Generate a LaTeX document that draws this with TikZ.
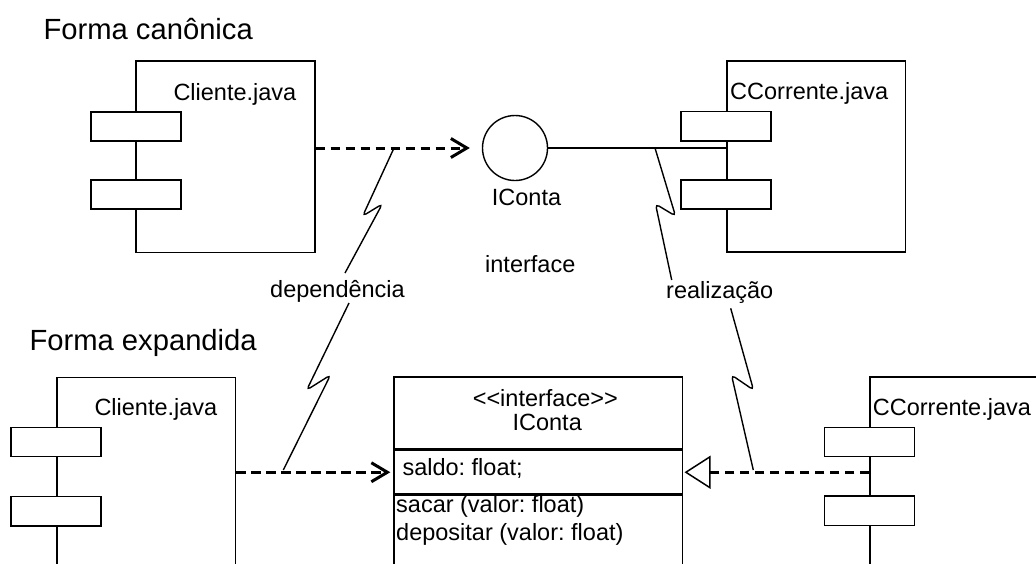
\documentclass[tikz,border=0pt]{standalone}
\usepackage{fontspec}
\setmainfont{Liberation Sans}
\usetikzlibrary{arrows.meta}
\frenchspacing

\tikzset{
  lbl/.style={inner sep=0pt, anchor=base west, font=\fontsize{23.5}{28}\selectfont},
  lblc/.style={lbl, anchor=base},
  head/.style={inner sep=0pt, anchor=base west, font=\fontsize{29.2}{34}\selectfont},
  comp/.style={draw, line width=1.6pt, fill=white, inner sep=0pt, anchor=north west},
  port/.style={draw, line width=1.6pt, fill=white, inner sep=0pt,
               minimum width=90pt, minimum height=29.3pt},
  clsbox/.style={draw, line width=1.5pt, fill=white, inner sep=0pt, anchor=north west,
                 minimum width=288.4pt},
  depline/.style={line width=3pt, dash pattern=on 9.5pt off 5.5pt,
                  -{Straight Barb[length=16pt,width=19pt]}},
  realline/.style={line width=3pt, dash pattern=on 9.5pt off 5.5pt,
                   -{Triangle[open,length=26pt,width=33pt,line width=1.5pt]}},
  bolt/.style={line width=1.4pt, rounded corners=4pt},
}

\begin{document}
\begin{tikzpicture}[x=1pt, y=-1pt]
  \useasboundingbox (0,0) rectangle (1036,563);
  \fill[white] (0,0) rectangle (1036,563);
  \clip (0,0) rectangle (1036,563);

  % ---------- canonical form ----------
  \node[head] (hcan) at (43.3,39.3) {Forma canônica};

  \node[comp, minimum width=179pt, minimum height=191.5pt] (cliA) at (135,60) {};
  \node[lbl] (cliAt) at (173.3,100) {Cliente.java};
  \node[port] (cliAp1) at (136,126.5) {};
  \node[port] (cliAp2) at (136,194.5) {};

  \node[comp, minimum width=178.5pt, minimum height=191pt] (ccA) at (726,60) {};
  \node[lbl] (ccAt) at (730,99.5) {CCorrente.java};
  \node[port] (ccAp1) at (725.8,126.2) {};
  \node[port] (ccAp2) at (725.8,194.6) {};

  \node[draw, circle, line width=1.4pt, minimum size=65pt, inner sep=0pt] (ic) at (515,148) {};
  \node[lbl] (icname) at (491.7,205) {IConta};
  \node[lbl] (iflabel) at (485,272.7) {interface};

  \draw[depline, shorten >=12pt] (cliA.east |- ic.west) -- (ic.west);
  \draw[line width=1.5pt] (ic.east) -- (ic.east -| ccA.west);

  % ---------- expanded form ----------
  \node[head] (hexp) at (29.3,350) {Forma expandida};

  \node[comp, minimum width=178.7pt, minimum height=230pt] (cliB) at (56,376.7) {};
  \node[lbl] (cliBt) at (94.3,415) {Cliente.java};
  \node[port] (cliBp1) at (56,442) {};
  \node[port] (cliBp2) at (56,511.3) {};

  \node[comp, minimum width=220pt, minimum height=230pt] (ccB) at (869.3,376) {};
  \node[lbl] (ccBt) at (872.7,415) {CCorrente.java};
  \node[port] (ccBp1) at (869.3,442) {};
  \node[port] (ccBp2) at (869.3,510.7) {};

  \node[clsbox, minimum height=72.3pt] (ichead) at (393.3,376) {};
  \node[clsbox, minimum height=43.4pt] (icattr) at (ichead.south west) {};
  \node[clsbox, minimum height=120pt] (icops) at (icattr.south west) {};
  \node[lblc] (stereo) at (545.3,406) {<\kern0pt<interface>\kern0pt>};
  \node[lblc] (iccls) at (547.2,430) {IConta};
  \node[lbl] (attr1) at (402.3,475) {saldo: float;};
  \node[lbl] (op1) at (396,512.5) {sacar (valor: float)};
  \node[lbl] (op2) at (396,540) {depositar (valor: float)};

  \draw[depline, shorten >=3pt] (cliB.east |- icattr.west) -- (icattr.west);
  \draw[realline, shorten >=1.3pt] (ccB.west |- icattr.east) -- (icattr.east);

  % ---------- note labels with their anchor bolts ----------
  \node[lbl] (ldep) at (270,297) {dependência};
  \node[lbl] (lreal) at (666,298) {realização};

  \coordinate (dA0) at (394,148);   \coordinate (dA1) at (362.7,216);
  \coordinate (dA2) at (382.3,204); \coordinate (dA3) at (345,273);
  \coordinate (dB0) at (349,303);   \coordinate (dB1) at (306.7,390);
  \coordinate (dB2) at (330.5,375); \coordinate (dB3) at (283.3,470);
  \coordinate (rA0) at (655,148);   \coordinate (rA1) at (675.5,216);
  \coordinate (rA2) at (655.5,204); \coordinate (rA3) at (671.7,280);
  \coordinate (rB0) at (730.7,308.3); \coordinate (rB1) at (753.5,390);
  \coordinate (rB2) at (731.5,375);   \coordinate (rB3) at (753.3,470);

  \draw[bolt] (dA0) -- (dA1) -- (dA2) -- (dA3);
  \draw[bolt] (dB0) -- (dB1) -- (dB2) -- (dB3);
  \draw[bolt] (rA0) -- (rA1) -- (rA2) -- (rA3);
  \draw[bolt] (rB0) -- (rB1) -- (rB2) -- (rB3);
\end{tikzpicture}
\end{document}
